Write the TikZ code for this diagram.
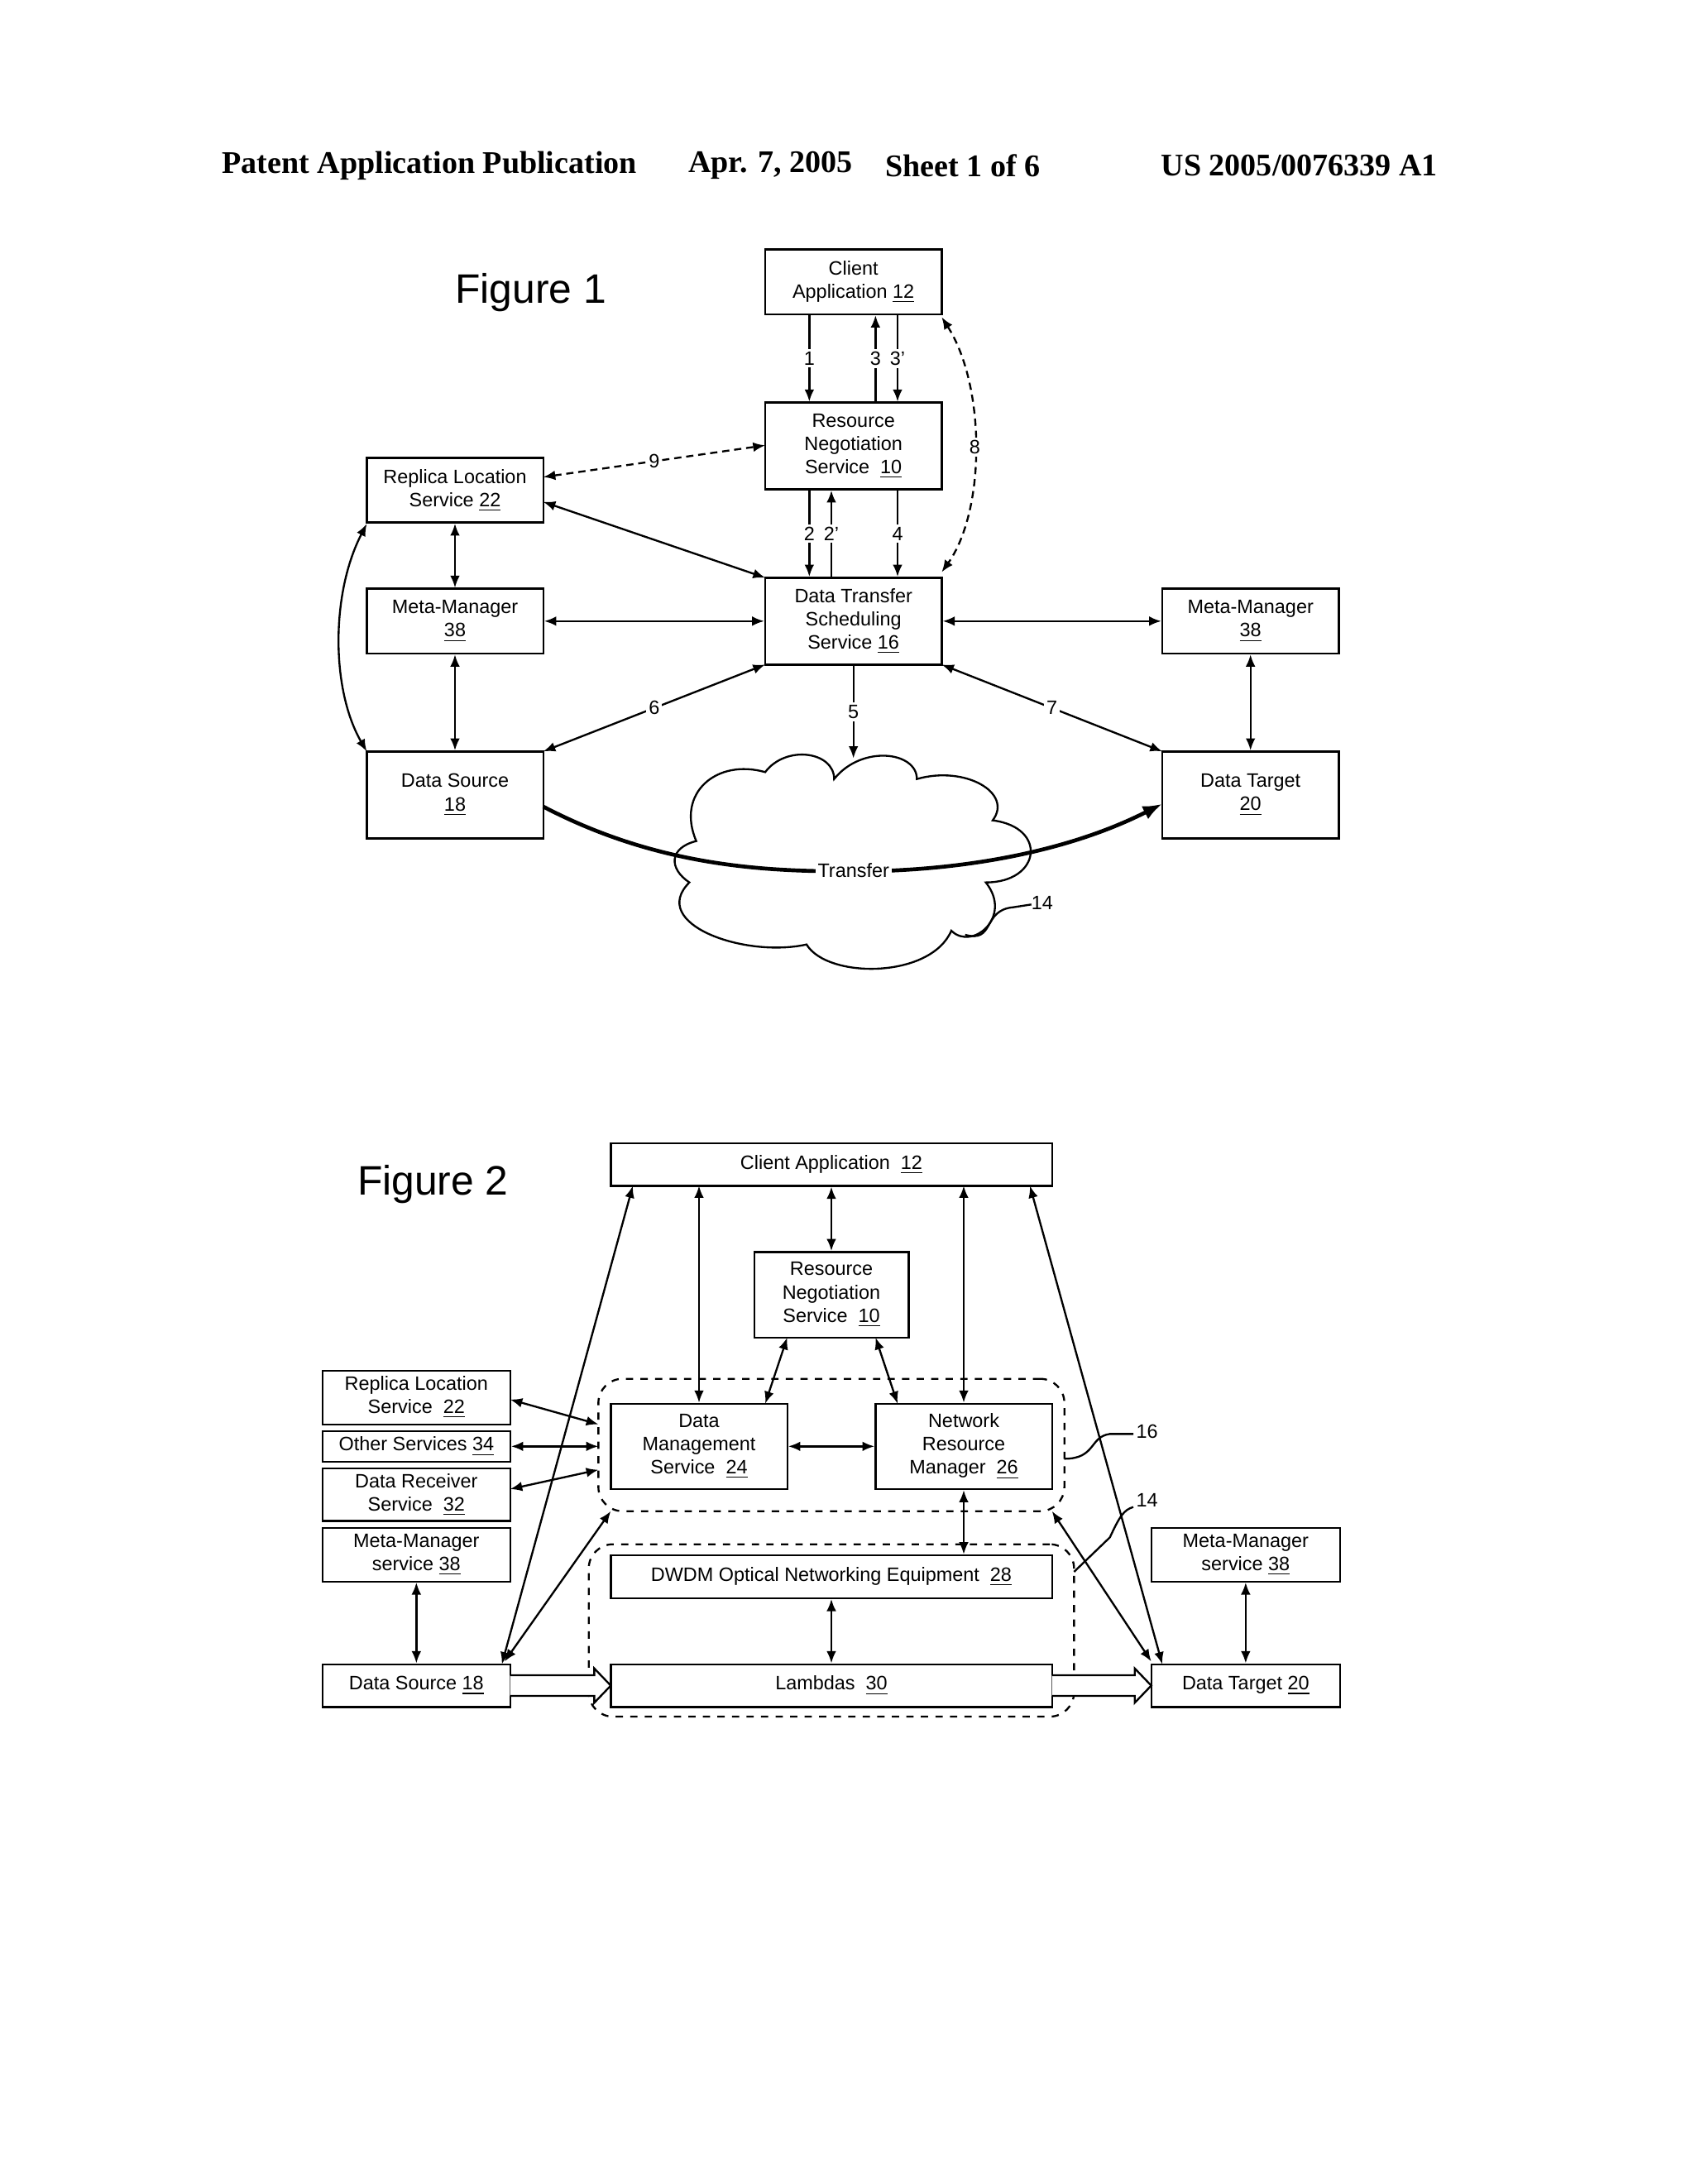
\documentclass[tikz,border=0pt]{standalone}
\usepackage{fontspec}
\setmainfont{Liberation Sans}
\newfontfamily\hdr{Liberation Serif}
\usetikzlibrary{arrows.meta,decorations.pathmorphing}
\begin{document}
\begin{tikzpicture}[x=0.02cm,y=-0.02cm,
 box/.style={draw,thick,align=center,inner sep=0pt,font=\fontsize{8}{9.6}\selectfont},
 lbl/.style={font=\fontsize{8}{9.6}\selectfont,fill=white,inner sep=1pt},
 ar/.style={{Latex[length=5pt,width=4pt]}-{Latex[length=5pt,width=4pt]},thick},
 a1/.style={-{Latex[length=5pt,width=4pt]},thick},
 grp/.style={draw,thick,dashed,rounded corners=10}]
\useasboundingbox[fill=white] (0,0) rectangle (1229,1584);
% header
\node[font=\hdr\bfseries\fontsize{13}{15}\selectfont,anchor=west] (h1) at (155,120) {Patent Application Publication};
\node[font=\hdr\bfseries\fontsize{13}{15}\selectfont,anchor=west] (h2) at (493,120) {Apr. 7, 2005};
\node[font=\hdr\bfseries\fontsize{13}{15}\selectfont,anchor=west] (h3) at (636,120) {Sheet 1 of 6};
\node[font=\hdr\bfseries\fontsize{13}{15}\selectfont,anchor=west] (h4) at (836,120) {US 2005/0076339 A1};
% ===== Figure 1
\node[font=\fontsize{17}{20}\selectfont] (f1) at (385,212) {Figure 1};
\node[box,minimum width=128*0.02cm,minimum height=47*0.02cm] (ca) at (619,204.5) {Client\\Application \underline{12}};
\node[box,minimum width=128*0.02cm,minimum height=63*0.02cm] (rns) at (619,323.5) {Resource\\Negotiation\\Service \ \underline{10}};
\node[box,minimum width=128*0.02cm,minimum height=63*0.02cm] (dts) at (619,450.5) {Data Transfer\\Scheduling\\Service \underline{16}};
\node[box,minimum width=128*0.02cm,minimum height=47*0.02cm] (rls) at (330,355.5) {Replica Location\\Service \underline{22}};
\node[box,minimum width=128*0.02cm,minimum height=47*0.02cm] (mml) at (330,450.5) {Meta-Manager\\\underline{38}};
\node[box,minimum width=128*0.02cm,minimum height=63*0.02cm] (ds) at (330,576.5) {Data Source\\\underline{18}};
\node[box,minimum width=128*0.02cm,minimum height=47*0.02cm] (mmr) at (907,450.5) {Meta-Manager\\\underline{38}};
\node[box,minimum width=128*0.02cm,minimum height=63*0.02cm] (dt) at (907,576.5) {Data Target\\\underline{20}};
% cloud
\draw[thick] (505,610) .. controls (490,575) and (520,550) .. (555,560)
 .. controls (570,540) and (605,545) .. (605,565)
 .. controls (625,540) and (665,545) .. (665,565)
 .. controls (700,555) and (735,575) .. (720,595)
 .. controls (760,600) and (755,640) .. (715,640)
 .. controls (735,665) and (705,690) .. (690,675)
 .. controls (675,710) and (600,710) .. (585,685)
 .. controls (540,695) and (470,670) .. (500,640)
 .. controls (485,630) and (485,615) .. (505,610) -- cycle;
\coordinate (cltop) at (619,550);
% arrows fig1
\draw[a1] (ca.south -| 587,0) -- (rns.north -| 587,0) node[lbl,midway] (l1) {1};
\draw[a1] (rns.north -| 635,0) -- (ca.south -| 635,0) node[lbl,midway] (l3) {3};
\draw[a1] (ca.south -| 651,0) -- (rns.north -| 651,0) node[lbl,midway] (l3p) {3'};
\draw[a1] (rns.south -| 587,0) -- (dts.north -| 587,0) node[lbl,midway] (l2) {2};
\draw[a1] (dts.north -| 603,0) -- (rns.south -| 603,0) node[lbl,midway] (l2p) {2'};
\draw[a1] (rns.south -| 651,0) -- (dts.north -| 651,0) node[lbl,midway] (l4) {4};
\draw[ar,densely dashed] (683,230) .. controls (715,280) and (715,370) .. (683,415) node[lbl,pos=0.5] (l8) {8};
\draw[ar,densely dashed] (394,346) -- (555,323) node[lbl,midway] (l9) {9};
\draw[ar] (394,364) -- (555,419);
\draw[ar] (mml) -- (dts);
\draw[ar] (dts) -- (mmr);
\draw[ar] (rls) -- (mml);
\draw[ar] (mml) -- (ds);
\draw[ar] (266,380) .. controls (240,430) and (240,500) .. (266,545);
\draw[ar] (394,545) -- (555,482) node[lbl,midway] (l6) {6};
\draw[a1] (dts.south) -- (cltop) node[lbl,midway] (l5) {5};
\draw[ar] (683,482) -- (843,545) node[lbl,midway] (l7) {7};
\draw[ar] (mmr) -- (dt);
\draw[-{Latex[length=8pt,width=6pt]},line width=1.6pt] (394,585) .. controls (480,630) and (560,632) .. (619,632) .. controls (690,632) and (770,620) .. (843,583);
\node[lbl] (tr) at (619,631) {Transfer};
\draw[thick] (700,678) .. controls (722,684) and (712,660) .. (735,658) -- (748,656);
\node[lbl,anchor=west,fill=none] (n14a) at (746,655) {14};
% ===== Figure 2
\node[font=\fontsize{17}{20}\selectfont] (f2) at (314,859) {Figure 2};
\node[grp,minimum width=338*0.02cm,minimum height=96*0.02cm] (g16) at (603,1048) {};
\node[grp,minimum width=352*0.02cm,minimum height=125*0.02cm] (g14) at (603,1182.5) {};
\node[box,minimum width=320*0.02cm,minimum height=31*0.02cm] (ca2) at (603,844.5) {Client Application \ \underline{12}};
\node[box,minimum width=112*0.02cm,minimum height=62*0.02cm] (rns2) at (603,939) {Resource\\Negotiation\\Service \ \underline{10}};
\node[box,minimum width=128*0.02cm,minimum height=62*0.02cm] (dm) at (507,1049) {Data\\Management\\Service \ \underline{24}};
\node[box,minimum width=128*0.02cm,minimum height=62*0.02cm] (nrm) at (699,1049) {Network\\Resource\\Manager \ \underline{26}};
\node[box,minimum width=320*0.02cm,minimum height=31*0.02cm] (dw) at (603,1143.5) {DWDM Optical Networking Equipment \ \underline{28}};
\node[box,minimum width=320*0.02cm,minimum height=31*0.02cm] (lam) at (603,1222.5) {Lambdas \ \underline{30}};
\node[box,minimum width=136*0.02cm,minimum height=39*0.02cm] (rl2) at (302,1013.5) {Replica Location\\Service \ \underline{22}};
\node[box,minimum width=136*0.02cm,minimum height=22*0.02cm] (os) at (302,1049) {Other Services \underline{34}};
\node[box,minimum width=136*0.02cm,minimum height=38*0.02cm] (dr) at (302,1084) {Data Receiver\\Service \ \underline{32}};
\node[box,minimum width=136*0.02cm,minimum height=39*0.02cm] (mm2l) at (302,1127.5) {Meta-Manager\\service \underline{38}};
\node[box,minimum width=136*0.02cm,minimum height=31*0.02cm] (ds2) at (302,1222.5) {Data Source \underline{18}};
\node[box,minimum width=137*0.02cm,minimum height=39*0.02cm] (mm2r) at (903.5,1127.5) {Meta-Manager\\service \underline{38}};
\node[box,minimum width=137*0.02cm,minimum height=31*0.02cm] (dt2) at (903.5,1222.5) {Data Target \underline{20}};
\draw[ar] (ca2) -- (rns2);
\draw[ar] (507,860) -- (dm.north);
\draw[ar] (699,860) -- (nrm.north);
\draw[ar] (571,970) -- (555,1018);
\draw[ar] (635,970) -- (651,1018);
\draw[ar] (dm) -- (nrm);
\draw[ar] (370,1015) -- (434,1033);
\draw[ar] (os) -- (434,1049);
\draw[ar] (370,1080) -- (434,1066);
\draw[ar] (459,860) -- (364,1207);
\draw[ar] (747,860) -- (843,1207);
\draw[ar] (366,1205) -- (443,1096);
\draw[ar] (835,1205) -- (763,1096);
\draw[ar] (nrm.south) -- (nrm.south |- dw.north);
\draw[ar] (dw) -- (lam);
\draw[ar] (mm2l) -- (ds2);
\draw[ar] (mm2r) -- (dt2);
% hollow arrows
\draw[thick,fill=white] (370,1215) -- (431,1215) -- (431,1210) -- (443,1222.5) -- (431,1235) -- (431,1230) -- (370,1230);
\draw[thick,fill=white] (763,1215) -- (823,1215) -- (823,1210) -- (835,1222.5) -- (823,1235) -- (823,1230) -- (763,1230);
\draw[thick] (772,1058) .. controls (795,1058) and (790,1042) .. (805,1040) -- (822,1040);
\node[lbl,anchor=west,fill=none] (n16) at (822,1038) {16};
\draw[thick] (779,1140) -- (805,1115) .. controls (812,1100) and (815,1095) .. (822,1093);
\node[lbl,anchor=west,fill=none] (n14b) at (822,1088) {14};
\end{tikzpicture}
\end{document}
